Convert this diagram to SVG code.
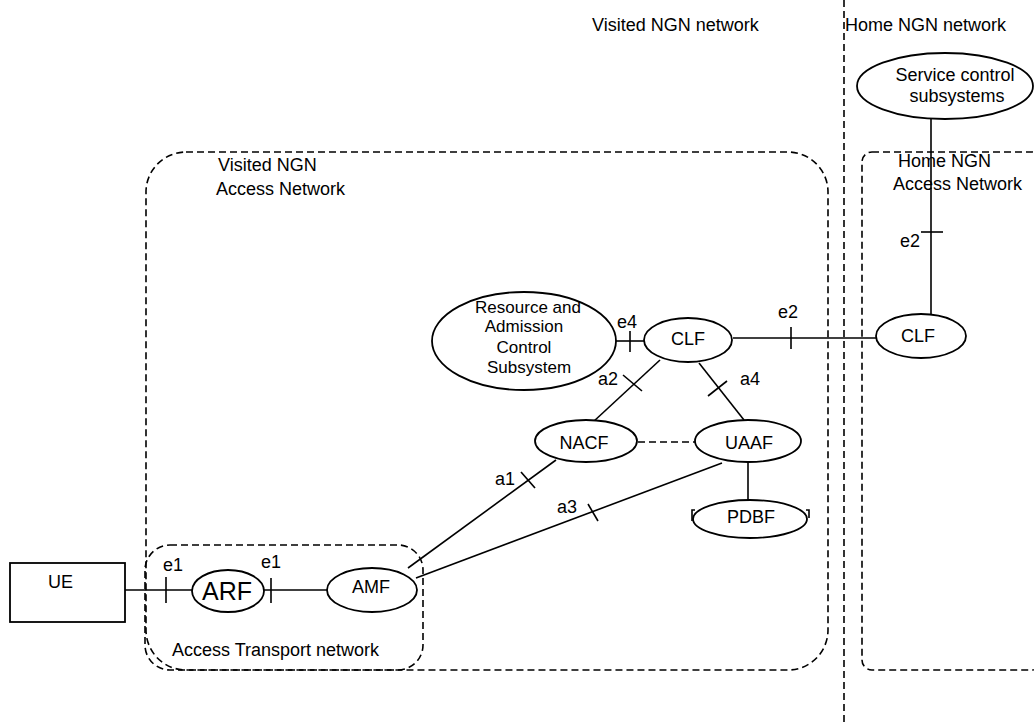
<svg xmlns="http://www.w3.org/2000/svg" width="1034" height="722" viewBox="0 0 1034 722">
<style>
text{font-family:"Liberation Sans",Arial,sans-serif;font-size:18px;fill:#000}
.n{fill:#fff;stroke:#000;stroke-width:1.8}
.c{stroke:#000;stroke-width:1.6;fill:none}
.d{stroke:#000;stroke-width:1.6;fill:none;stroke-dasharray:7 4}
.m{text-anchor:middle}
.r{font-size:17px}
</style>
<rect width="1034" height="722" fill="#fff"/>
<g id="regions">
<line class="d" x1="844" y1="0" x2="844" y2="722"/>
<text x="592" y="31">Visited NGN network</text>
<text x="845" y="31">Home NGN network</text>
<rect id="visited-access" class="d" x="146" y="152" width="682" height="518" rx="40" ry="40"/>
<text x="218" y="171">Visited NGN</text>
<text x="216" y="195">Access Network</text>
<rect id="home-access" class="d" x="862" y="152" width="180" height="518" rx="10" ry="10"/>
<text x="898" y="167">Home NGN</text>
<text x="893" y="190">Access Network</text>
<rect id="access-transport" class="d" x="145" y="545" width="278" height="125" rx="25" ry="25"/>
<text x="172" y="656">Access Transport network</text>
</g>
<g id="connectors">
<line class="c" x1="931" y1="119" x2="931" y2="314"/>
<line class="c" x1="921" y1="232" x2="943" y2="232"/>
<line class="c" x1="733" y1="338" x2="877" y2="338"/>
<line class="c" x1="791" y1="327" x2="791" y2="349"/>
<line class="c" x1="616" y1="341" x2="645" y2="341"/>
<line class="c" x1="630" y1="331" x2="630" y2="352"/>
<line class="c" x1="660" y1="360" x2="593" y2="422"/>
<line class="c" x1="623" y1="375" x2="642" y2="391"/>
<line class="c" x1="699" y1="363" x2="744" y2="420"/>
<line class="c" x1="708" y1="396" x2="727" y2="381"/>
<line class="d" x1="638" y1="442" x2="695" y2="442"/>
<line class="c" x1="748" y1="462" x2="748" y2="500"/>
<line class="c" x1="408" y1="568" x2="556" y2="460"/>
<line class="c" x1="521" y1="472" x2="535" y2="488"/>
<line class="c" x1="416" y1="578" x2="722" y2="463"/>
<line class="c" x1="588" y1="504" x2="598" y2="521"/>
<line class="c" x1="125" y1="590" x2="192" y2="590"/>
<line class="c" x1="166" y1="577" x2="166" y2="603"/>
<line class="c" x1="264" y1="590" x2="327" y2="590"/>
<line class="c" x1="271" y1="578" x2="271" y2="603"/>
</g>
<g id="ue"><rect class="n" x="10" y="563" width="115" height="59"/><text x="48" y="588">UE</text></g>
<g id="arf"><ellipse class="n" cx="228" cy="591" rx="36" ry="21"/><text class="m" x="227" y="600" style="font-size:25px">ARF</text></g>
<g id="amf"><ellipse class="n" cx="372" cy="590" rx="45" ry="22"/><text class="m" x="371" y="593">AMF</text></g>
<g id="nacf"><ellipse class="n" cx="586" cy="441" rx="51" ry="21"/><text class="m" x="584" y="449">NACF</text></g>
<g id="uaaf"><ellipse class="n" cx="748" cy="441" rx="53" ry="21"/><text class="m" x="749" y="449">UAAF</text></g>
<g id="pdbf"><path class="c" d="M695 510 L692 510 L692 521 M806 510 L809 510 L809 518"/><ellipse class="n" cx="750" cy="519" rx="57" ry="19"/><text class="m" x="751" y="523">PDBF</text></g>
<g id="clf-visited"><ellipse class="n" cx="688" cy="340" rx="44" ry="22"/><text class="m" x="688" y="345">CLF</text></g>
<g id="racs"><ellipse class="n" cx="524" cy="341" rx="92" ry="49"/>
<text class="m r" x="528" y="313">Resource and</text><text class="m r" x="524" y="332">Admission</text><text class="m r" x="524" y="353">Control</text><text class="m r" x="529" y="373">Subsystem</text></g>
<g id="clf-home"><ellipse class="n" cx="921" cy="336" rx="45" ry="22"/><text class="m" x="918" y="342">CLF</text></g>
<g id="scs"><ellipse class="n" cx="945" cy="86" rx="88" ry="33"/><text class="m" x="955" y="81">Service control</text><text class="m" x="957" y="102">subsystems</text></g>
<g id="labels">
<text x="900" y="247">e2</text>
<text x="778" y="318">e2</text>
<text x="617" y="328">e4</text>
<text x="598" y="385">a2</text>
<text x="740" y="385">a4</text>
<text x="495" y="485">a1</text>
<text x="557" y="513">a3</text>
<text x="163" y="571">e1</text>
<text x="261" y="568">e1</text>
</g>
</svg>
